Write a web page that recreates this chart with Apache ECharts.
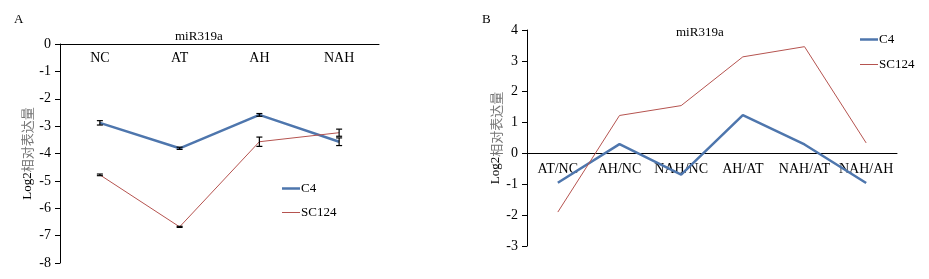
<!DOCTYPE html>
<html>
<head>
<meta charset="utf-8">
<script src="https://cdn.jsdelivr.net/npm/echarts@6/dist/echarts.min.js"></script>
<style>
  html, body { margin: 0; padding: 0; background: #fff; }
  #main { width: 929px; height: 279px; }
</style>
</head>
<body>
<div id="main"></div>
<script>
// panel A: log2 relative expression per treatment
let catA = ['NC', 'AT', 'AH', 'NAH']
let c4A = [-2.88, -3.81, -2.59, -3.57]
let c4AErr = [0.08, 0.04, 0.05, 0.14]
let scA = [-4.78, -6.68, -3.57, -3.24]
let scAErr = [0.03, 0.02, 0.17, 0.13]

// panel B: ratios between treatments
let catB = ['AT/NC', 'AH/NC', 'NAH/NC', 'AH/AT', 'NAH/AT', 'NAH/AH']
let c4B = [-0.95, 0.30, -0.69, 1.24, 0.29, -0.96]
let scB = [-1.90, 1.23, 1.55, 3.13, 3.46, 0.34]

const blue = '#4e76ad'
const red = '#b5534f'
const font = 'Liberation Serif'

let errData = (vals, errs) => vals.map((v, i) => [i, v - errs[i], v + errs[i]])

let renderErr = function (params, api) {
    let x = api.value(0)
    let lo = api.coord([x, api.value(1)])
    let hi = api.coord([x, api.value(2)])
    let w = 3
    let st = {stroke: '#000', lineWidth: 1.2}
    return {
        type: 'group',
        children: [
            {type: 'line', shape: {x1: lo[0], y1: lo[1], x2: hi[0], y2: hi[1]}, style: st},
            {type: 'line', shape: {x1: lo[0] - w, y1: lo[1], x2: lo[0] + w, y2: lo[1]}, style: st},
            {type: 'line', shape: {x1: hi[0] - w, y1: hi[1], x2: hi[0] + w, y2: hi[1]}, style: st}
        ]
    }
}

let yName = {
    rich: {
        a: {fontFamily: font, fontSize: 13, color: '#000'},
        b: {fontFamily: 'Noto Sans CJK SC', fontSize: 13, color: '#777'}
    }
}

// one legend per entry so each icon can have its own line thickness
let legendItem = (name, left, top, h) => ({
    left: left, top: top, icon: 'rect', itemWidth: 18, itemHeight: h, itemGap: 0,
    data: [name],
    textStyle: {fontFamily: font, fontSize: 13, color: '#000', padding: [0, 0, 0, -4]}
})

let myChart = echarts.init(document.getElementById('main'))
let option = {
    animation: false,
    textStyle: {fontFamily: font},
    title: [
        {text: 'A', left: 9, top: 8, textStyle: {fontFamily: font, fontSize: 13, fontWeight: 'normal', color: '#000'}},
        {text: 'B', left: 477, top: 8, textStyle: {fontFamily: font, fontSize: 13, fontWeight: 'normal', color: '#000'}},
        {text: 'miR319a', left: 170, top: 25, textStyle: {fontFamily: font, fontSize: 13, fontWeight: 'normal', color: '#000'}},
        {text: 'miR319a', left: 671, top: 21, textStyle: {fontFamily: font, fontSize: 13, fontWeight: 'normal', color: '#000'}}
    ],
    legend: [
        legendItem('C4', 277, 177, 2.5),
        legendItem('SC124', 277, 201, 1),
        legendItem('C4', 855, 28, 2.5),
        legendItem('SC124', 855, 53, 1)
    ],
    grid: [
        {left: 60, top: 44, width: 319, height: 219},
        {left: 527, top: 30, width: 370, height: 216}
    ],
    xAxis: [
        {
            gridIndex: 0, type: 'category', data: catA, position: 'top',
            axisLine: {lineStyle: {color: '#000', width: 1}},
            axisTick: {inside: true, length: 5, lineStyle: {color: '#000'}},
            axisLabel: {inside: true, margin: 7, interval: 0, fontFamily: font, fontSize: 14, color: '#000'}
        },
        {
            // sits on y = 0: 3/7 of the grid height above the bottom edge
            gridIndex: 1, type: 'category', data: catB, offset: -216 * 3 / 7,
            axisLine: {onZero: false, lineStyle: {color: '#000', width: 1}},
            axisTick: {inside: true, length: 5, lineStyle: {color: '#000'}},
            axisLabel: {margin: 9, interval: 0, fontFamily: font, fontSize: 14, color: '#000'}
        }
    ],
    yAxis: [
        {
            gridIndex: 0, type: 'value', min: -8, max: 0, interval: 1,
            name: '{a|Log2}{b|相对表达量}', nameLocation: 'middle', nameGap: 26, nameRotate: 90,
            nameTextStyle: yName,
            splitLine: {show: false},
            axisLine: {show: true, lineStyle: {color: '#000', width: 1}},
            axisTick: {show: true, length: 5, lineStyle: {color: '#000'}},
            axisLabel: {margin: 9, fontFamily: font, fontSize: 14, color: '#000'}
        },
        {
            gridIndex: 1, type: 'value', min: -3, max: 4, interval: 1,
            name: '{a|Log2}{b|相对表达量}', nameLocation: 'middle', nameGap: 24, nameRotate: 90,
            nameTextStyle: yName,
            splitLine: {show: false},
            axisLine: {show: true, onZero: false, lineStyle: {color: '#000', width: 1}},
            axisTick: {show: true, length: 5, lineStyle: {color: '#000'}},
            axisLabel: {margin: 9, fontFamily: font, fontSize: 14, color: '#000'}
        }
    ],
    series: [
        {
            name: 'C4', type: 'line', xAxisIndex: 0, yAxisIndex: 0, data: c4A,
            symbol: 'none', lineStyle: {color: blue, width: 2.5}, itemStyle: {color: blue}
        },
        {
            name: 'SC124', type: 'line', xAxisIndex: 0, yAxisIndex: 0, data: scA,
            symbol: 'none', lineStyle: {color: red, width: 1}, itemStyle: {color: red}
        },
        {
            type: 'custom', xAxisIndex: 0, yAxisIndex: 0, renderItem: renderErr,
            data: errData(c4A, c4AErr), z: 5
        },
        {
            type: 'custom', xAxisIndex: 0, yAxisIndex: 0, renderItem: renderErr,
            data: errData(scA, scAErr), z: 5
        },
        {
            name: 'C4', type: 'line', xAxisIndex: 1, yAxisIndex: 1, data: c4B,
            symbol: 'none', lineStyle: {color: blue, width: 2.5}, itemStyle: {color: blue}
        },
        {
            name: 'SC124', type: 'line', xAxisIndex: 1, yAxisIndex: 1, data: scB,
            symbol: 'none', lineStyle: {color: red, width: 1}, itemStyle: {color: red}
        }
    ]
}
myChart.setOption(option)
</script>
</body>
</html>
